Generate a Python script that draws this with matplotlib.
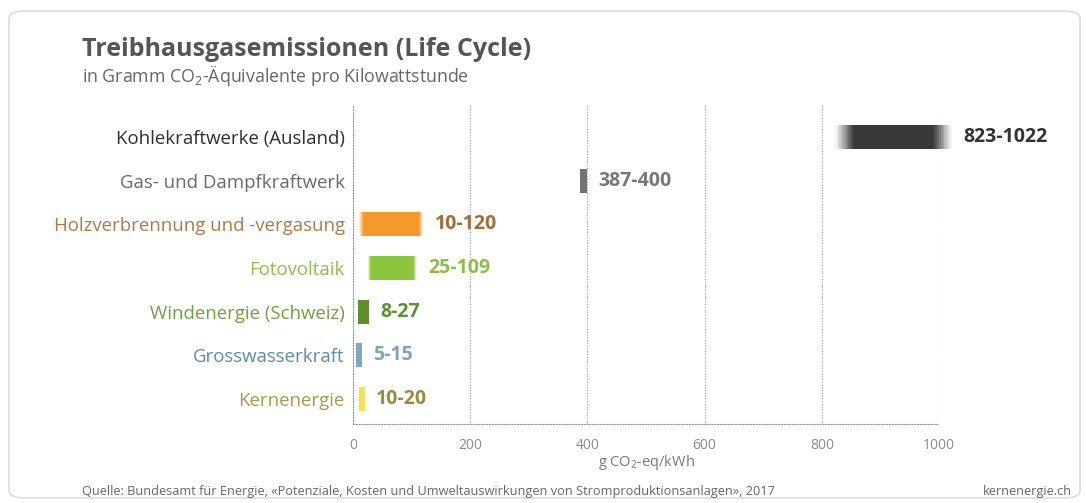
import numpy as np
import matplotlib
matplotlib.use("Agg")
import matplotlib.pyplot as plt
from matplotlib.patches import FancyBboxPatch

plt.rcParams['font.family'] = ['Open Sans', 'DejaVu Sans']
plt.rcParams['mathtext.fontset'] = 'custom'
plt.rcParams['mathtext.rm'] = 'Open Sans'
plt.rcParams['mathtext.it'] = 'Open Sans'

# data (g CO2-eq/kWh, life cycle ranges)
categories = ["Kohlekraftwerke (Ausland)", "Gas- und Dampfkraftwerk",
              "Holzverbrennung und -vergasung", "Fotovoltaik",
              "Windenergie (Schweiz)", "Grosswasserkraft", "Kernenergie"]
low = [823, 387, 10, 25, 8, 5, 10]
high = [1022, 400, 120, 109, 27, 15, 20]
xticks = [0, 200, 400, 600, 800, 1000]

# styles
bar_colors = ["#383838", "#737373", "#f7982a", "#8cc63f", "#5e8f2c", "#7fa8bd", "#f5e250"]
label_colors = ["#2e2e2e", "#6a6a6a", "#b07a45", "#8cc04a", "#72a03c", "#5d8ca5", "#a8984a"]
value_colors = ["#333333", "#787878", "#a56c36", "#8cbf45", "#5f8f30", "#7ea5bd", "#9a8c3e"]
fade = [32, 0, 8, 6, 0, 0, 0]   # soft edges, data units
bar_h = 0.55

fig = plt.figure(figsize=(10.86, 5.03), dpi=100)
fig.patch.set_facecolor("white")

# card outline
card = FancyBboxPatch((9 / 1086, 5 / 503), 1071 / 1086, 487 / 503,
                      boxstyle="round,pad=0,rounding_size=0.015",
                      transform=fig.transFigure, facecolor="white",
                      edgecolor="#dddddd", linewidth=1.2, zorder=-5)
fig.patches.append(card)

ax = fig.add_axes([353 / 1086, 1 - 424 / 503, 586 / 1086, 319 / 503])
ax.set_facecolor("none")

ys = np.arange(len(categories))
for i, y in enumerate(ys):
    lo, hi, f = low[i], high[i], fade[i]
    if f == 0:
        ax.barh(y, hi - lo, left=lo, height=bar_h, color=bar_colors[i],
                linewidth=0, clip_on=False, zorder=3)
    else:
        ax.barh(y, hi - lo - 2 * f, left=lo + f, height=bar_h,
                color=bar_colors[i], linewidth=0, clip_on=False, zorder=3)
        n = 10
        step = f / n
        for k in range(n):
            a = (k + 0.5) / n
            ax.barh(y, step, left=lo + k * step, height=bar_h, color=bar_colors[i],
                    alpha=a, linewidth=0, clip_on=False, zorder=3)
            ax.barh(y, step, left=hi - (k + 1) * step, height=bar_h, color=bar_colors[i],
                    alpha=a, linewidth=0, clip_on=False, zorder=3)
    ax.annotate(f"{lo}-{hi}", xy=(hi, y), xytext=(8, 0), textcoords="offset points",
                ha="left", va="center", fontsize=14, fontweight="bold",
                color=value_colors[i], annotation_clip=False)

ax.set_xlim(0, 1000)
ax.set_ylim(6.57, -0.733)

ax.set_yticks(ys)
ax.set_yticklabels(categories, fontsize=13.4)
for lab, c in zip(ax.get_yticklabels(), label_colors):
    lab.set_color(c)
ax.tick_params(axis="y", length=0, pad=6)

ax.set_xticks(xticks)
ax.set_xticklabels([str(t) for t in xticks], fontsize=10, color="#8a8a8a")
ax.tick_params(axis="x", length=0, pad=10)
ax.set_xlabel("g CO$_2$-eq/kWh", fontsize=10.5, color="#777777", labelpad=0)

ax.grid(axis="x", color="#9a9a9a", linestyle=(0, (1, 1.5)), linewidth=0.8)
ax.set_axisbelow(True)
for s in ["top", "right"]:
    ax.spines[s].set_visible(False)
for s in ["left", "bottom"]:
    ax.spines[s].set_color("#9a9a9a")
    ax.spines[s].set_linestyle((0, (1, 1.5)))
    ax.spines[s].set_linewidth(0.8)

fig.text(82 / 1086, 1 - 56 / 503, "Treibhausgasemissionen (Life Cycle)",
         fontsize=18, fontweight="bold", color="#555555", ha="left", va="baseline")
fig.text(82 / 1086, 1 - 82 / 503, "in Gramm CO$_2$-Äquivalente pro Kilowattstunde",
         fontsize=12.8, color="#666666", ha="left", va="baseline")

fig.text(82 / 1086, 1 - 492 / 503,
         "Quelle: Bundesamt für Energie, «Potenziale, Kosten und Umweltauswirkungen von Stromproduktionsanlagen», 2017",
         fontsize=9.2, color="#666666", ha="left", va="center")
fig.text(1072 / 1086, 1 - 492 / 503, "kernenergie.ch",
         fontsize=9.2, color="#666666", ha="right", va="center")

fig.savefig("out.png", dpi=100, facecolor="white")
